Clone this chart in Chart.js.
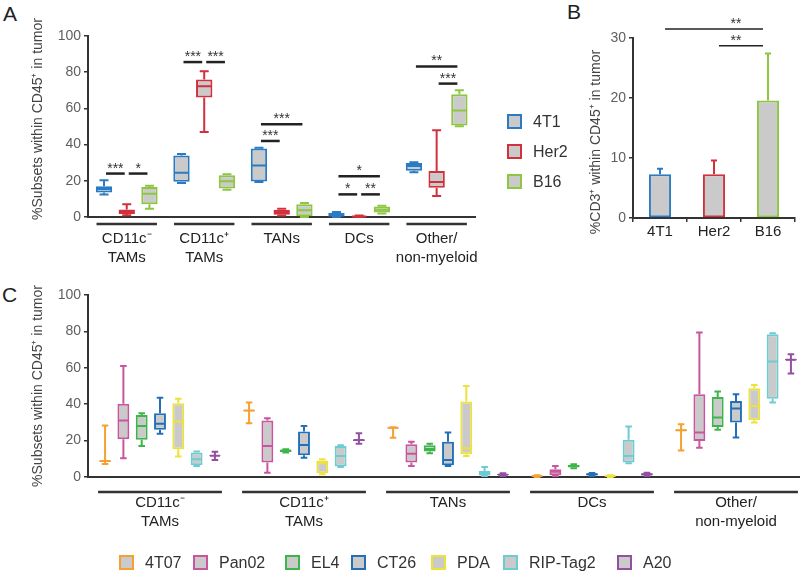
<!DOCTYPE html>
<html>
<head>
<meta charset="utf-8">
<script src="https://cdn.jsdelivr.net/npm/chart.js"></script>
<style>
body { margin: 0; width: 800px; height: 573px; overflow: hidden; background: #fff; position: relative; font-family: "Liberation Sans", Arial, sans-serif; }
canvas { position: absolute; }
.panel { position: absolute; font-size: 21px; color: #222; }
.leg { position: absolute; font-size: 16px; color: #333; white-space: nowrap; line-height: 15px; }
.leg i { display: inline-block; box-sizing: border-box; width: 15px; height: 15px; border: 2px solid; background: #cacaca; vertical-align: top; margin-right: 11px; }
</style>
</head>
<body>
<div class="panel" style="left:3px;top:2px">A</div>
<div class="panel" style="left:567px;top:0px">B</div>
<div class="panel" style="left:2px;top:283px">C</div>
<canvas id="chartA" width="490" height="275" style="left:0;top:0"></canvas>
<canvas id="chartB" width="240" height="275" style="left:560px;top:0"></canvas>
<canvas id="chartC" width="810" height="295" style="left:0;top:278px"></canvas>
<div id="legends"></div>
<script>
// panel A: [min, q1, median, q3, max] per cell group
const groupsA = [["CD11c⁻", "TAMs"], ["CD11c⁺", "TAMs"], "TANs", "DCs", ["Other/", "non-myeloid"]]
const seriesA = ["4T1", "Her2", "B16"]
const box4T1 = [[12.5, 13.5, 15.5, 17, 20.3], [18.8, 19.5, 24.5, 34, 34.8], [19.3, 19.6, 28.5, 37.8, 38.2], [0, 0.2, 1.3, 2.4, 2.7], [24.7, 25.6, 28.2, 29.8, 30.2]]
const boxHer2 = [[0.9, 1.7, 3, 4.2, 7], [47, 66, 72.2, 76, 80.5], [0.8, 1.3, 2.8, 4, 4.5], [0, 0, 0.3, 0.6, 0.8], [11.6, 16.2, 19.3, 25.4, 47.9]]
const boxB16 = [[4.6, 7, 12.9, 16.6, 17.3], [15.1, 15.8, 19.7, 23, 23.6], [0, 0.4, 3.7, 7, 7.7], [2, 2.5, 4, 5.8, 6.2], [50.1, 50.6, 58.9, 67.8, 70]]
// [group, from series, to series, y value, label]
const sigA = [
  [0, 0, 1, 24, "***"], [0, 1, 2, 24, "*"],
  [1, 0, 1, 85.6, "***"], [1, 1, 2, 85.6, "***"],
  [2, 0, 1, 42, "***"], [2, 0, 2, 51.2, "***"],
  [3, 0, 1, 12.5, "*"], [3, 1, 2, 12.5, "**"], [3, 0, 2, 22.5, "*"],
  [4, 0, 2, 83.2, "**"], [4, 1, 2, 73.7, "***"]
]

// panel B
const catsB = ["4T1", "Her2", "B16"]
const cd3Mean = [7.3, 7.3, 19.6]
const cd3Upper = [8.2, 9.6, 27.4]
// [from, to, y value, label]
const sigB = [[0, 2, 31.5, "**"], [1, 2, 28.7, "**"]]

// panel C
const groupsC = [["CD11c⁻", "TAMs"], ["CD11c⁺", "TAMs"], "TANs", "DCs", ["Other/", "non-myeloid"]]
const seriesC = ["4T07", "Pan02", "EL4", "CT26", "PDA", "RIP-Tag2", "A20"]
const box4T07 = [[7.2, 8.2, 8.8, 9.2, 28.3], [29.5, 36, 36.5, 37, 41], [21.5, 26.5, 27, 27.3, 27.4], [0, 0.2, 0.5, 0.8, 1], [14.5, 25.2, 25.7, 26.2, 29]]
const boxPan02 = [[10.3, 20.7, 31, 40.2, 61], [2.4, 8, 17, 31, 32.3], [6, 7.9, 12.8, 18, 19.4], [0.5, 1, 2.9, 4.2, 6], [16.1, 19.8, 24.4, 45.5, 79.4]]
const boxEL4 = [[17, 20.4, 28, 34.1, 35], [13.4, 13.8, 14.5, 15, 15.2], [13, 14, 15.4, 17.5, 18.3], [4.8, 5.2, 6, 6.6, 7], [25.9, 27.5, 32.7, 44, 47]]
const boxCT26 = [[23.7, 25.9, 29.2, 35, 43.5], [10.6, 12, 17.6, 25, 28], [6, 6.5, 9.4, 19.3, 24.4], [0.5, 0.8, 1.5, 2, 2.2], [21.7, 29.9, 37.6, 41.8, 45.5]]
const boxPDA = [[11.2, 15.2, 30.5, 40.5, 43], [1.5, 2, 7.5, 9, 9.7], [11.6, 12.5, 15.8, 41.5, 50], [0, 0.2, 0.5, 0.9, 1], [29.9, 31.2, 39, 48.8, 50.6]]
const boxRIP = [[6, 6.5, 9.7, 13.5, 14], [5.5, 5.8, 11.6, 17, 17.4], [0.5, 0.8, 2, 3.3, 5.5], [7.5, 8, 11.6, 20.4, 27.7], [41, 43, 63.5, 78.5, 79]]
const boxA20 = [[9.4, 11.4, 11.7, 12, 13.9], [18.3, 19.8, 20.3, 20.8, 24], [0.5, 1, 1.3, 1.6, 2], [0.5, 0.8, 1.5, 2, 2.3], [56.9, 64, 64.4, 64.8, 67.5]]

const FONT = '"Liberation Sans", Arial, sans-serif'
const GREY = '#cacaca'
const colorsA = ['#2b7bc4', '#d1303c', '#8dc641']
const colorsC = ['#f5a033', '#c9559f', '#3cb54a', '#2170b8', '#ece23a', '#6ccbd3', '#9350a0']

// whiskers, caps and medians on top of the floating bars
const boxPlugin = {
  id: 'boxes',
  afterDatasetsDraw(chart) {
    const ctx = chart.ctx
    const y = chart.scales.y
    chart.data.datasets.forEach((ds, di) => {
      if (!ds.stats) return
      chart.getDatasetMeta(di).data.forEach((bar, i) => {
        const s = ds.stats[i]
        const x = bar.x, w = bar.width, cap = w * 0.55
        const p = s.map(v => y.getPixelForValue(v))
        ctx.save()
        ctx.strokeStyle = ds.borderColor
        ctx.lineWidth = ds.borderWidth
        ctx.beginPath()
        ctx.moveTo(x, p[3]); ctx.lineTo(x, p[4])
        ctx.moveTo(x, p[1]); ctx.lineTo(x, p[0])
        ctx.moveTo(x - cap / 2, p[4]); ctx.lineTo(x + cap / 2, p[4])
        ctx.moveTo(x - cap / 2, p[0]); ctx.lineTo(x + cap / 2, p[0])
        ctx.moveTo(x - w / 2 + 1, p[2]); ctx.lineTo(x + w / 2 - 1, p[2])
        ctx.stroke()
        ctx.restore()
      })
    })
  }
}

function errorPlugin(upper) {
  return {
    id: 'errors',
    afterDatasetsDraw(chart) {
      const ctx = chart.ctx, y = chart.scales.y
      const ds = chart.data.datasets[0]
      chart.getDatasetMeta(0).data.forEach((bar, i) => {
        const top = y.getPixelForValue(upper[i])
        ctx.save()
        ctx.strokeStyle = ds.borderColor[i]
        ctx.lineWidth = 2
        ctx.beginPath()
        ctx.moveTo(bar.x, bar.y); ctx.lineTo(bar.x, top)
        ctx.moveTo(bar.x - 3, top); ctx.lineTo(bar.x + 3, top)
        ctx.stroke()
        ctx.restore()
      })
    }
  }
}

// axis title, group underlines and significance bars
function extras(cfg) {
  return {
    id: 'extras',
    afterDraw(chart) {
      const ctx = chart.ctx, xs = chart.scales.x, ys = chart.scales.y, area = chart.chartArea
      ctx.save()
      ctx.fillStyle = '#444'
      ctx.font = '14px ' + FONT
      ctx.textAlign = 'center'
      ctx.textBaseline = 'middle'
      ctx.translate(cfg.title.x, cfg.title.y)
      ctx.rotate(-Math.PI / 2)
      ctx.fillText(cfg.title.text, 0, 0)
      ctx.restore()

      if (cfg.underline) {
        const cw = xs.width / chart.data.labels.length
        ctx.save()
        ctx.strokeStyle = '#333'
        ctx.lineWidth = 2.5
        chart.data.labels.forEach((l, i) => {
          const cx = xs.getPixelForValue(i)
          const yy = area.bottom + cfg.underline.dy
          ctx.beginPath()
          ctx.moveTo(cx - cw * cfg.underline.ratio / 2, yy)
          ctx.lineTo(cx + cw * cfg.underline.ratio / 2, yy)
          ctx.stroke()
        })
        ctx.restore()
      }

      if (cfg.sig) {
        ctx.save()
        ctx.strokeStyle = '#222'
        ctx.fillStyle = '#333'
        ctx.lineWidth = cfg.sig.width
        ctx.font = '14px ' + FONT
        ctx.textAlign = 'center'
        ctx.textBaseline = 'alphabetic'
        cfg.sig.items.forEach(it => {
          let x1, x2, v, label
          if (cfg.sig.grouped) {
            const [g, a, b, val, lab] = it
            x1 = chart.getDatasetMeta(a).data[g].x
            x2 = chart.getDatasetMeta(b).data[g].x
            v = val; label = lab
          } else {
            const [a, b, val, lab] = it
            x1 = chart.getDatasetMeta(0).data[a].x
            x2 = chart.getDatasetMeta(0).data[b].x
            v = val; label = lab
          }
          x1 += cfg.sig.inset; x2 -= cfg.sig.inset
          const yy = ys.getPixelForValue(v)
          ctx.beginPath()
          ctx.moveTo(x1, yy); ctx.lineTo(x2, yy)
          ctx.stroke()
          const lx = cfg.sig.labelX ? x2 - cfg.sig.labelX : (x1 + x2) / 2
          ctx.fillText(label, lx, yy - 1)
        })
        ctx.restore()
      }
    }
  }
}

function boxDatasets(boxes, colors, names, bp, cp) {
  return names.map((name, i) => ({
    label: name,
    data: boxes[i].map(b => [b[1], b[3]]),
    stats: boxes[i],
    backgroundColor: GREY,
    borderColor: colors[i],
    borderWidth: 2,
    borderSkipped: false,
    barPercentage: bp,
    categoryPercentage: cp
  }))
}

function yAxis(max, step, width) {
  return {
    min: 0, max: max,
    ticks: { stepSize: step, color: '#5f5f5f', font: { family: FONT, size: 14 }, padding: 3 },
    grid: { drawOnChartArea: false, tickLength: 4, color: '#333', lineWidth: 1.5 },
    border: { color: '#333', width: 2 },
    afterFit: s => { s.width = width }
  }
}

const common = {
  responsive: false,
  animation: false,
  events: [],
  plugins: { legend: { display: false }, tooltip: { enabled: false } }
}

new Chart('chartA', {
  type: 'bar',
  data: { labels: groupsA, datasets: boxDatasets([box4T1, boxHer2, boxB16], colorsA, seriesA, 0.72, 0.88) },
  options: Object.assign({}, common, {
    layout: { padding: { top: 36, right: 5, left: 0, bottom: 0 } },
    scales: {
      x: {
        grid: { display: false, drawTicks: false },
        border: { color: '#333', width: 2 },
        ticks: { color: '#222', font: { family: FONT, size: 15, lineHeight: 1.3 }, padding: 12, maxRotation: 0, autoSkip: false },
        afterFit: s => { s.height = 58 }
      },
      y: yAxis(100, 20, 88)
    }
  }),
  plugins: [boxPlugin, extras({
    title: { text: '%Subsets within CD45⁺ in tumor', x: 38, y: 119 },
    underline: { dy: 7, ratio: 0.78 },
    sig: { items: sigA, grouped: true, inset: 2, width: 2.5 }
  })]
})

new Chart('chartB', {
  type: 'bar',
  data: {
    labels: catsB,
    datasets: [{
      data: cd3Mean,
      backgroundColor: GREY,
      borderColor: colorsA,
      borderWidth: 2,
      borderSkipped: false,
      barPercentage: 0.41,
      categoryPercentage: 1
    }]
  },
  options: Object.assign({}, common, {
    layout: { padding: { top: 38, right: 5, left: 0, bottom: 0 } },
    scales: {
      x: {
        grid: { drawOnChartArea: false, tickLength: 4, color: '#333', lineWidth: 1.5 },
        border: { color: '#333', width: 2 },
        ticks: { color: '#222', font: { family: FONT, size: 15, lineHeight: 1.3 }, padding: 0 },
        afterFit: s => { s.height = 57 }
      },
      y: yAxis(30, 10, 73)
    }
  }),
  plugins: [errorPlugin(cd3Upper), extras({
    title: { text: '%CD3⁺ within CD45⁺ in tumor', x: 36, y: 142 },
    sig: { items: sigB, grouped: false, inset: 5, width: 1.5, labelX: 27 }
  })]
})

new Chart('chartC', {
  type: 'bar',
  data: { labels: groupsC, datasets: boxDatasets([box4T07, boxPan02, boxEL4, boxCT26, boxPDA, boxRIP, boxA20], colorsC, seriesC, 0.65, 0.89) },
  options: Object.assign({}, common, {
    layout: { padding: { top: 17, right: 2, left: 0, bottom: 0 } },
    scales: {
      x: {
        grid: { display: false, drawTicks: false },
        border: { color: '#333', width: 2 },
        ticks: { color: '#222', font: { family: FONT, size: 15, lineHeight: 1.3 }, padding: 16, maxRotation: 0, autoSkip: false },
        afterFit: s => { s.height = 96 }
      },
      y: yAxis(100, 20, 88)
    }
  }),
  plugins: [boxPlugin, extras({
    title: { text: '%Subsets within CD45⁺ in tumor', x: 38, y: 108 },
    underline: { dy: 15, ratio: 0.86 }
  })]
})

// html legends
const legHolder = document.getElementById('legends')
function addLegend(name, color, left, top) {
  const d = document.createElement('div')
  d.className = 'leg'
  d.style.left = left + 'px'
  d.style.top = top + 'px'
  d.innerHTML = '<i style="border-color:' + color + '"></i>' + name
  legHolder.appendChild(d)
}
seriesA.forEach((n, i) => addLegend(n, colorsA[i], 507, 114 + i * 30))
const legCLeft = [119, 193, 285, 351, 431, 503, 617]
seriesC.forEach((n, i) => addLegend(n, colorsC[i], legCLeft[i], 555))
</script>
</body>
</html>
